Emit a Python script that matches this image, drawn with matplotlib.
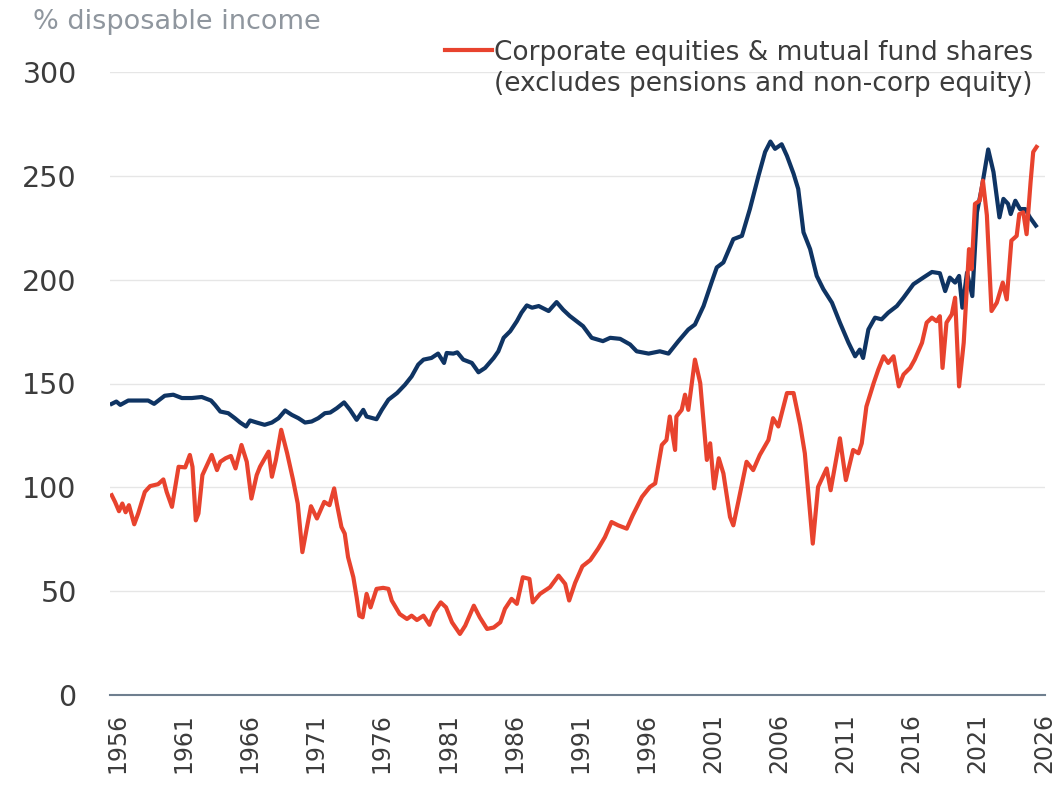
import matplotlib
matplotlib.use("Agg")
import matplotlib.pyplot as plt
from matplotlib.lines import Line2D

# corporate equities & mutual fund shares, % of disposable income
red_years = [1956.05, 1956.3, 1956.6, 1956.85, 1957.1, 1957.35, 1957.75, 1958.05, 1958.55, 1958.95,
             1959.55, 1959.95, 1960.2, 1960.6, 1961.1, 1961.6, 1961.95, 1962.15, 1962.4, 1962.6,
             1962.9, 1963.25, 1963.6, 1964.0, 1964.25, 1964.65, 1965.05, 1965.4, 1965.85, 1966.25,
             1966.6, 1967.0, 1967.25, 1967.9, 1968.15, 1968.45, 1968.85, 1969.3, 1969.75, 1970.1,
             1970.45, 1970.8, 1971.1, 1971.55, 1972.1, 1972.5, 1972.85, 1973.05, 1973.4, 1973.65,
             1973.9, 1974.3, 1974.55, 1974.75, 1975.0, 1975.3, 1975.6, 1976.05, 1976.55, 1976.95,
             1977.2, 1977.8, 1978.35, 1978.7, 1979.1, 1979.6, 1980.05, 1980.4, 1980.9, 1981.3,
             1981.75, 1982.35, 1982.75, 1983.4, 1983.85, 1984.4, 1984.9, 1985.4, 1985.75, 1986.25,
             1986.65, 1987.1, 1987.6, 1987.85, 1988.4, 1989.15, 1989.8, 1990.3, 1990.6, 1991.05,
             1991.6, 1992.2, 1992.8, 1993.3, 1993.8, 1994.3, 1994.95, 1995.4, 1996.1, 1996.7,
             1997.1, 1997.6, 1997.95, 1998.2, 1998.6, 1998.7, 1999.1, 1999.35, 1999.6, 2000.1,
             2000.5, 2001.0, 2001.25, 2001.55, 2001.9, 2002.25, 2002.75, 2003.0, 2003.4, 2004.0,
             2004.5, 2005.0, 2005.65, 2006.0, 2006.4, 2007.05, 2007.55, 2008.05, 2008.4, 2009.0,
             2009.4, 2010.05, 2010.35, 2011.05, 2011.5, 2012.05, 2012.45, 2012.7, 2013.05, 2013.6,
             2013.95, 2014.35, 2014.7, 2015.1, 2015.5, 2015.85, 2016.35, 2016.7, 2017.25, 2017.6,
             2018.0, 2018.35, 2018.6, 2018.8, 2019.1, 2019.5, 2019.75, 2020.05, 2020.4, 2020.8,
             2021.0, 2021.25, 2021.6, 2021.85, 2022.15, 2022.5, 2022.9, 2023.35, 2023.65, 2024.0,
             2024.4, 2024.6, 2024.9, 2025.15, 2025.45, 2025.65, 2025.9]
red_vals = [96.2, 93, 88.5, 92.2, 88, 91.4, 82.2, 87.4, 97.8, 100.6,
            101.5, 103.8, 97.8, 90.6, 109.9, 109.6, 115.6, 109.9, 84.1, 87.4,
            105.9, 110.7, 115.6, 108.3, 112.3, 114, 115.1, 109.1, 120.4, 112.3,
            94.6, 105.9, 109.9, 117.2, 105.1, 113.2, 127.7, 116.4, 103.5, 92.2,
            68.8, 80.9, 90.9, 85, 93, 91.4, 99.5, 92.2, 80.9, 77.7,
            66.4, 56.7, 47, 38.2, 37.4, 48.7, 42.2, 51.1, 51.6, 51.1,
            45.5, 39, 36.6, 38.2, 36.1, 38.2, 33.8, 39.8, 44.6, 42.2,
            35, 29.4, 33.4, 43, 37.4, 31.8, 32.5, 35, 41.5, 46.3,
            43.9, 56.7, 55.9, 44.6, 48.7, 51.9, 57.5, 53.5, 45.5, 54,
            62, 65, 70.6, 76, 83.3, 81.7, 80.1, 86.5, 95.4, 100.2,
            101.9, 120.4, 122.8, 134.1, 118, 134.1, 137.3, 144.6, 137.3, 161.5,
            150.2, 113.2, 121.2, 99.5, 114, 106.7, 85.7, 81.7, 93.8, 112.3,
            108.3, 115.6, 122.8, 133.3, 129.3, 145.4, 145.4, 130, 116.4, 72.9,
            100.2, 109.1, 98.6, 123.6, 103.5, 118, 116.4, 121.2, 138.9, 150.2,
            156.7, 163.1, 159.9, 163.1, 148.6, 154.3, 157.5, 161.5, 169.6, 179.3,
            181.7, 180, 182.4, 157.5, 179.3, 183.3, 191.3, 148.6, 169.6, 214.7,
            205, 236.5, 238, 247.7, 231, 184.9, 188.9, 198.6, 190.5, 218.8,
            221.1, 231.6, 232.4, 221.9, 246.9, 261.5, 263.9]

# second (navy) series, % of disposable income
blue_years = [1956.05, 1956.4, 1956.7, 1957.3, 1958.05, 1958.8, 1959.25, 1960.05, 1960.7, 1961.35,
              1962.1, 1962.85, 1963.55, 1963.85, 1964.25, 1964.85, 1965.35, 1965.75, 1966.2, 1966.5,
              1967.0, 1967.6, 1968.15, 1968.65, 1969.15, 1969.65, 1970.15, 1970.65, 1971.15, 1971.65,
              1972.15, 1972.55, 1973.05, 1973.6, 1974.05, 1974.55, 1975.05, 1975.3, 1976.05, 1976.45,
              1976.95, 1977.6, 1978.2, 1978.7, 1979.2, 1979.6, 1980.2, 1980.7, 1981.15, 1981.35,
              1981.85, 1982.15, 1982.6, 1983.25, 1983.75, 1984.25, 1984.9, 1985.25, 1985.65, 1986.15,
              1986.65, 1987.0, 1987.4, 1987.8, 1988.3, 1989.05, 1989.65, 1990.15, 1990.65, 1991.65,
              1992.3, 1993.15, 1993.7, 1994.45, 1995.2, 1995.7, 1996.6, 1997.45, 1998.1, 1998.85,
              1999.6, 2000.1, 2000.75, 2001.35, 2001.75, 2002.25, 2003.0, 2003.65, 2004.25, 2004.9,
              2005.4, 2005.8, 2006.15, 2006.65, 2007.05, 2007.55, 2007.9, 2008.3, 2008.8, 2009.3,
              2009.8, 2010.45, 2011.05, 2011.7, 2012.2, 2012.55, 2012.8, 2013.2, 2013.7, 2014.2,
              2014.7, 2015.35, 2015.85, 2016.6, 2017.35, 2018.0, 2018.6, 2019.0, 2019.35, 2019.75,
              2020.05, 2020.3, 2020.65, 2021.05, 2021.4, 2021.75, 2022.25, 2022.65, 2023.1, 2023.4,
              2023.75, 2023.95, 2024.3, 2024.65, 2025.05, 2025.4, 2025.85]
blue_vals = [140.2, 141.3, 139.7, 141.8, 141.8, 141.8, 140.2, 144.1, 144.6, 143,
             143, 143.5, 141.8, 139.7, 136.5, 135.7, 133.3, 131.2, 129.3, 132.2,
             131.2, 130.1, 131.2, 133.3, 137, 134.9, 133.3, 131.2, 131.7, 133.3,
             135.7, 136, 138.1, 140.9, 137.3, 132.5, 137.3, 134.1, 132.8, 137.3,
             142.2, 145.4, 149.4, 153.4, 159.1, 161.5, 162.3, 164.4, 159.9, 164.7,
             164.4, 165, 161.5, 159.9, 155.4, 157.5, 162.3, 165.5, 172, 175.2,
             180, 184.1, 187.6, 186.5, 187.3, 184.9, 189.2, 185.5, 182.5, 177.6,
             172, 170.4, 172, 171.5, 168.8, 165.5, 164.4, 165.5, 164.4, 170.4,
             176, 178.4, 187.3, 198.6, 205.9, 208.3, 219.5, 221.1, 234, 250,
             261.5, 266.5, 263, 265.2, 259.6, 251, 243.7, 222.8, 214.7, 201.8,
             195.4, 188.9, 179.3, 169.6, 163.1, 166.3, 162.3, 176, 181.7, 180.9,
             184.1, 187.3, 191.3, 197.8, 201, 203.7, 203.1, 194.5, 201, 198.6,
             201.8, 186.5, 203.4, 192.1, 232.4, 243.7, 262.7, 251.8, 230, 238.9,
             236.5, 231.6, 238, 234, 234, 230, 226]

tick_years = list(range(1956, 2027, 5))
y_ticks = [0, 50, 100, 150, 200, 250, 300]

RED = "#e8432e"
NAVY = "#0f3463"
TEXT = "#3c3c3c"

plt.rcParams['font.family'] = ['DejaVu Sans']

W, H = 1064, 793
fig = plt.figure(figsize=(W / 100, H / 100), dpi=100)
ax = fig.add_axes([110 / W, 1 - 695 / H, (1045 - 110) / W, (695 - 72) / H])

ax.plot(blue_years, blue_vals, color=NAVY, lw=3, solid_joinstyle='round', zorder=3)
ax.plot(red_years, red_vals, color=RED, lw=3, solid_joinstyle='round', zorder=4)

ax.set_xlim(1955.92, 2026.54)
ax.set_ylim(0, 300)

# year labels sit a little right of the year start
ax.set_xticks([y + 0.45 for y in tick_years])
ax.set_xticklabels([str(y) for y in tick_years], rotation=90, fontsize=17, color=TEXT)
ax.set_yticks(y_ticks)
ax.set_yticklabels([str(v) for v in y_ticks], fontsize=20.5, color=TEXT)
ax.tick_params(axis='x', length=0, pad=13)
ax.tick_params(axis='y', length=0, pad=24)

ax.grid(axis='y', color='#e6e6e6', lw=1)
ax.set_axisbelow(True)
for side in ['top', 'right', 'left']:
    ax.spines[side].set_visible(False)
ax.spines['bottom'].set_color('#6f7f8f')
ax.spines['bottom'].set_linewidth(1.5)
ax.spines['bottom'].set_zorder(5)

fig.text(33 / W, 1 - 29 / H, "% disposable income", fontsize=19.5, color='#8f969e', va='baseline')

# legend drawn by hand so the swatch lines up with the first text line
fig.add_artist(Line2D([445 / W, 492 / W], [1 - 50 / H, 1 - 50 / H], transform=fig.transFigure,
                      color=RED, lw=3))
fig.text(494 / W, 1 - 60 / H, "Corporate equities & mutual fund shares", fontsize=19,
         color=TEXT, va='baseline')
fig.text(494 / W, 1 - 91 / H, "(excludes pensions and non-corp equity)", fontsize=19,
         color=TEXT, va='baseline')

fig.savefig("out.png", dpi=100)
